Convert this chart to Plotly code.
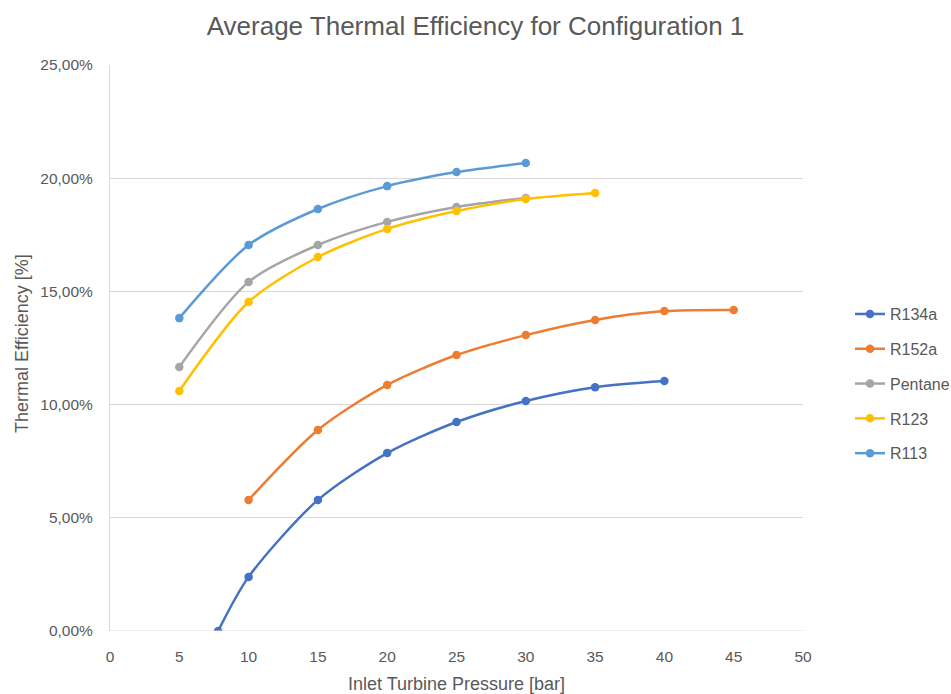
import plotly.graph_objects as go

# Data (efficiency as fractions)
r134a_x = [7.8, 10, 15, 20, 25, 30, 35, 40]
r134a_y = [0.0, 0.0239, 0.0579, 0.0786, 0.0923, 0.1016, 0.1077, 0.1104]

r152a_x = [10, 15, 20, 25, 30, 35, 40, 45]
r152a_y = [0.0579, 0.0888, 0.1087, 0.1219, 0.1307, 0.1374, 0.1413, 0.1418]

pentane_x = [5, 10, 15, 20, 25, 30]
pentane_y = [0.1166, 0.1542, 0.1705, 0.1807, 0.1873, 0.1913]

r123_x = [5, 10, 15, 20, 25, 30, 35]
r123_y = [0.1060, 0.1453, 0.1652, 0.1776, 0.1855, 0.1908, 0.1935]

r113_x = [5, 10, 15, 20, 25, 30]
r113_y = [0.1382, 0.1705, 0.1864, 0.1965, 0.2027, 0.2067]

series = [
    ("R134a", r134a_x, r134a_y, "#4472C4"),
    ("R152a", r152a_x, r152a_y, "#ED7D31"),
    ("Pentane", pentane_x, pentane_y, "#A5A5A5"),
    ("R123", r123_x, r123_y, "#FFC000"),
    ("R113", r113_x, r113_y, "#5B9BD5"),
]

x_ticks = [0, 5, 10, 15, 20, 25, 30, 35, 40, 45, 50]
y_ticks = [0.0, 0.05, 0.10, 0.15, 0.20, 0.25]

fig = go.Figure()
for name, xs, ys, col in series:
    fig.add_trace(go.Scatter(
        x=xs, y=ys, name=name, mode="lines+markers",
        line=dict(color=col, width=2.5, shape="spline", smoothing=0.8),
        marker=dict(color=col, size=8.5),
        legendgroup=name,
    ))

FONT = "Liberation Sans, Arial"
GREY = "#595959"
tick_font = dict(family=FONT, size=15.5, color=GREY)
atitle_font = dict(family=FONT, size=18, color=GREY)

fig.update_layout(
    width=951, height=694,
    margin=dict(l=110, r=148, t=65, b=63),
    paper_bgcolor="white", plot_bgcolor="white",
    separators=",.",
    title=dict(text="Average Thermal Efficiency for Configuration 1",
               x=0.5, xanchor="center", y=0.963, yanchor="middle",
               font=dict(family=FONT, size=26, color=GREY)),
    xaxis=dict(range=[0, 50], tickvals=x_ticks, showgrid=False, zeroline=False,
               showline=False, ticks="", tickfont=tick_font, ticklabelstandoff=14),
    yaxis=dict(range=[0, 0.25], tickvals=y_ticks, tickformat=".2%",
               showgrid=True, gridcolor="#D9D9D9", gridwidth=1, zeroline=False,
               showline=True, linecolor="#D9D9D9", linewidth=1, ticks="",
               tickfont=tick_font, ticklabelstandoff=13),
    legend=dict(xref="container", x=850 / 951, xanchor="left",
                yref="paper", y=0.59, yanchor="top",
                font=dict(family=FONT, size=16, color=GREY),
                tracegroupgap=11, bgcolor="rgba(0,0,0,0)"),
    showlegend=True,
)
fig.add_shape(type="line", xref="paper", yref="y", x0=0, x1=1, y0=0, y1=0,
              line=dict(color="#D9D9D9", width=1))

# Axis titles as annotations (pixel-positioned relative to plot area)
fig.add_annotation(text="Inlet Turbine Pressure [bar]", xref="paper", yref="paper",
                   x=0.5, y=(631 - 684) / 566, xanchor="center", yanchor="middle",
                   showarrow=False, font=atitle_font)
fig.add_annotation(text="Thermal Efficiency [%]", xref="paper", yref="paper",
                   x=(22 - 110) / 693, y=(631 - 344) / 566, xanchor="center", yanchor="middle",
                   textangle=-90, showarrow=False, font=atitle_font)

fig.write_html("out.html")
